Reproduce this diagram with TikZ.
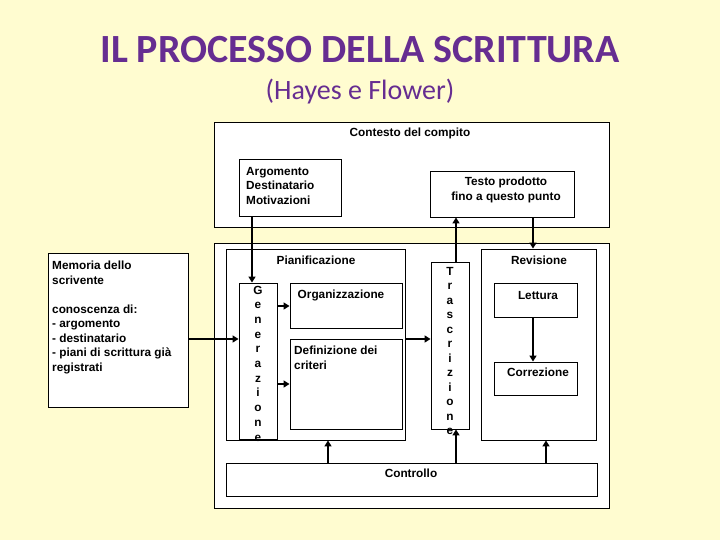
\documentclass[tikz,border=0pt]{standalone}
\usepackage{fontspec}
\setmainfont{Liberation Sans}
\newfontfamily\titlefont{Carlito}
\usetikzlibrary{fit,arrows.meta}
\definecolor{bgcol}{RGB}{255,252,208}
\definecolor{titlecol}{RGB}{102,45,145}
\begin{document}
\begin{tikzpicture}[x=1pt,y=-1pt,
  box/.style={draw=black, line width=0.9pt, fill=white, inner sep=0pt},
  txt/.style={font=\fontsize{11.8}{14.5}\selectfont\bfseries, inner sep=0pt},
  arr/.style={line width=1.8pt, -{Triangle[length=6pt,width=7pt]}}]
\fill[bgcol] (0,0) rectangle (720,540);
\useasboundingbox (0,0) rectangle (720,540);

\node[font=\titlefont\bfseries\fontsize{40}{44}\selectfont, text=titlecol, anchor=base, inner sep=0pt] (title) at (360,63) {IL PROCESSO DELLA SCRITTURA};
\node[font=\titlefont\fontsize{28}{32}\selectfont, text=titlecol, anchor=base, inner sep=0pt] (sub) at (360,100) {(Hayes e Flower)};

% boxes
\node[box, fit={(214,122)(609,227)}] (ctx) {};
\node[box, fit={(239,159)(341,216)}] (arg) {};
\node[box, fit={(430,171)(574,217)}] (testo) {};
\node[box, fit={(214,243)(609,508)}] (main) {};
\node[box, fit={(48,253)(188,407)}] (mem) {};
\node[box, fit={(226,249)(405,440)}] (pian) {};
\node[box, fit={(239,283)(277,439)}] (gen) {};
\node[box, fit={(290,283)(402,328)}] (org) {};
\node[box, fit={(290,339)(402,429)}] (def) {};
\node[box, fit={(431,262)(469,429)}] (tras) {};
\node[box, fit={(481,249)(596,440)}] (rev) {};
\node[box, fit={(494,283)(577,317)}] (lett) {};
\node[box, fit={(494,362)(577,395)}] (cor) {};
\node[box, fit={(226,463)(597,496)}] (ctl) {};

% texts
\node[txt] (tctx) at (410,133) {Contesto del compito};
\node[txt, align=left, anchor=north west] (targ) at (246,167) {Argomento\\Destinatario\\Motivazioni};
\node[txt, align=center, anchor=north] (ttesto) at (506,177) {Testo prodotto\\fino a questo punto};
\node[txt, align=left, anchor=north west] (tmem) at (52,261) {Memoria dello\\scrivente\\[14.5pt]conoscenza di:\\- argomento\\- destinatario\\- piani di scrittura già\\registrati};
\node[txt] (tpian) at (316,260) {Pianificazione};
\node[txt] (torg) at (341,295) {Organizzazione};
\node[txt, align=left, anchor=north west] (tdef) at (294,346) {Definizione dei\\criteri};
\node[txt] (trev) at (539,260) {Revisione};
\node[txt] (tlett) at (538,295) {Lettura};
\node[txt] (tcor) at (538,372) {Correzione};
\node[txt] (tctl) at (411,473) {Controllo};

\begin{scope}
  \clip (239,283) rectangle (277,441);
  \foreach \c [count=\i] in {G,e,n,e,r,a,z,i,o,n,e}
    \node[txt, anchor=base] (g\i) at (258,{294+14.7*(\i-1)}) {\c};
\end{scope}
\foreach \c [count=\i] in {T,r,a,s,c,r,i,z,i,o,n,e}
  \node[txt, anchor=base] (t\i) at (450,{275+14.5*(\i-1)}) {\c};

% helper coordinates
\coordinate (xa) at (252,0);
\coordinate (xb) at (456,0);
\coordinate (xc) at (533,0);
\coordinate (xd) at (328,0);
\coordinate (xe) at (546,0);
\coordinate (ym) at (0,339);
\coordinate (yo) at (0,306);
\coordinate (yd) at (0,384);

% arrows
\draw[arr] (xa |- arg.south) -- (xa |- gen.north);
\draw[arr] (xb |- tras.north) -- (xb |- testo.south);
\draw[arr] (xc |- testo.south) -- (xc |- rev.north);
\draw[arr] (mem.east |- ym) -- (gen.west |- ym);
\draw[arr] (gen.east |- yo) -- (org.west |- yo);
\draw[arr] (gen.east |- yd) -- (def.west |- yd);
\draw[arr] (pian.east |- ym) -- (tras.west |- ym);
\draw[arr] (xc |- lett.south) -- (xc |- cor.north);
\draw[arr] (xd |- ctl.north) -- (xd |- pian.south);
\draw[arr] (xb |- ctl.north) -- (xb |- tras.south);
\draw[arr] (xe |- ctl.north) -- (xe |- rev.south);
\end{tikzpicture}
\end{document}
